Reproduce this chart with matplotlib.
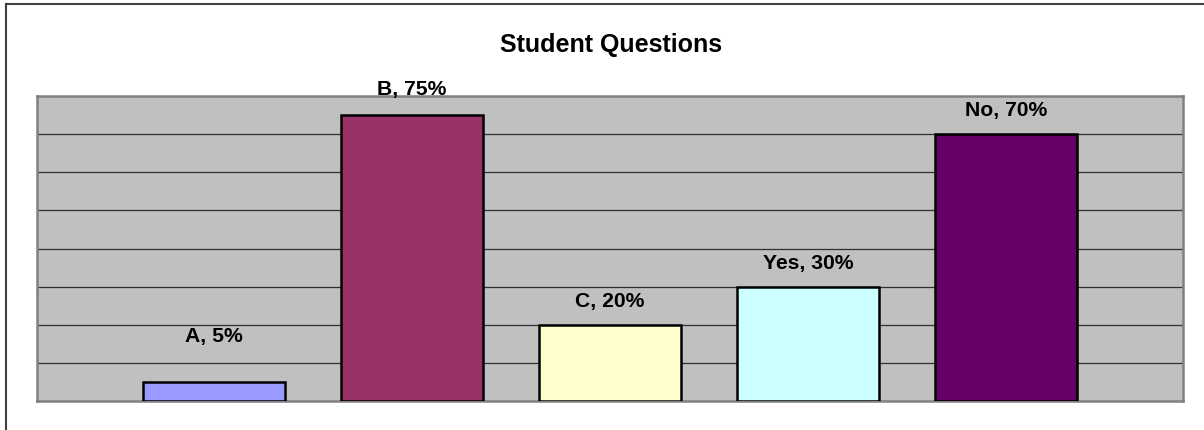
import matplotlib
matplotlib.use("Agg")
import matplotlib.pyplot as plt
from matplotlib.lines import Line2D

categories = ["A", "B", "C", "Yes", "No"]
values = [5, 75, 20, 30, 70]
colors = ["#9999FF", "#993366", "#FFFFCC", "#CCFFFF", "#660066"]
title = "Student Questions"
# label offsets above bar top (points)
label_offsets = [28.5, 14.5, 13.0, 13.0, 13.0]

W, H = 1204, 430
fig = plt.figure(figsize=(W / 100, H / 100), dpi=100)
plt.rcParams['font.family'] = ['Liberation Sans', 'DejaVu Sans']

ax = fig.add_axes([37 / W, 1 - 401 / H, (1183 - 37) / W, (401 - 96) / H])
ax.set_facecolor("#C0C0C0")
x = list(range(len(categories)))
ax.bar(x, values, width=0.717, color=colors, edgecolor="black", linewidth=1.8, zorder=3)
ax.set_xlim(-0.894, len(categories) - 1 + 0.894)
ax.set_ylim(0, 80)
ax.set_yticks(range(10, 80, 10))
ax.yaxis.grid(True, color="#303030", linewidth=0.9, zorder=1)
ax.set_axisbelow(True)
ax.tick_params(left=False, bottom=False, labelleft=False, labelbottom=False)
for s in ax.spines.values():
    s.set_color("#808080")
    s.set_linewidth(1.8)

for xi, v, c, off in zip(x, values, categories, label_offsets):
    ax.annotate(f"{c}, {v}%", (xi, v), xytext=(0, off), textcoords="offset points",
                ha="center", va="baseline", fontsize=15.2, fontweight="bold",
                color="black", zorder=5, annotation_clip=False)

fig.text(611 / W, 1 - 52 / H, title, ha="center", va="baseline",
         fontsize=18, fontweight="bold", color="black")

# outer chart frame (left and top edges visible)
fig.add_artist(Line2D([5.5 / W, 5.5 / W], [0, 1 - 3.5 / H], transform=fig.transFigure,
                      color="#404040", linewidth=1.5))
fig.add_artist(Line2D([5.5 / W, 1], [1 - 3.5 / H, 1 - 3.5 / H], transform=fig.transFigure,
                      color="#404040", linewidth=1.5))

fig.savefig("out.png", dpi=100)
